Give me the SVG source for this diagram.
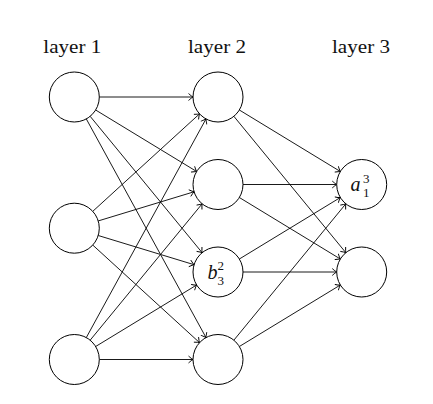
<svg xmlns="http://www.w3.org/2000/svg" width="433" height="404" viewBox="0 0 433 404">
<style>
.n{fill:#fff;stroke:#000;stroke-width:1}
.c line{stroke:#000;stroke-width:0.9;marker-end:url(#ar)}
.t{font-family:"Liberation Serif","Times New Roman","DejaVu Serif",serif;font-size:19px;fill:#111;text-anchor:middle}
.m{font-family:"Liberation Serif","Times New Roman","DejaVu Serif",serif;fill:#111}
</style>
<defs>
<marker id="ar" markerUnits="userSpaceOnUse" markerWidth="12" markerHeight="12" refX="0" refY="0" viewBox="-6 -6 12 12" orient="auto">
<path d="M-4.2,-3.2 Q-1.4,-0.7 0,0 Q-1.4,0.7 -4.2,3.2" fill="none" stroke="#000" stroke-width="0.9" stroke-linecap="round"/>
</marker>
</defs>
<rect width="433" height="404" fill="#fff"/>
<g id="labels">
<text class="t" x="72.3" y="53" textLength="58" lengthAdjust="spacingAndGlyphs">layer 1</text>
<text class="t" x="217" y="53" textLength="58" lengthAdjust="spacingAndGlyphs">layer 2</text>
<text class="t" x="361" y="53" textLength="58" lengthAdjust="spacingAndGlyphs">layer 3</text>
</g>
<g id="connectors" class="c">
<line x1="99.3" y1="97" x2="193" y2="97"/>
<line x1="95.65" y1="110" x2="196.65" y2="171.5"/>
<line x1="90.17" y1="116.32" x2="202.13" y2="252.68"/>
<line x1="86.3" y1="118.93" x2="206" y2="337.57"/>
<line x1="92.76" y1="211.34" x2="199.54" y2="113.86"/>
<line x1="98.22" y1="220.93" x2="194.08" y2="191.77"/>
<line x1="98.22" y1="235.5" x2="194.08" y2="264.7"/>
<line x1="92.76" y1="245.06" x2="199.54" y2="342.64"/>
<line x1="86.3" y1="337.57" x2="206" y2="118.93"/>
<line x1="90.17" y1="340.18" x2="202.13" y2="203.82"/>
<line x1="95.65" y1="346.5" x2="196.65" y2="285"/>
<line x1="99.3" y1="359.5" x2="193" y2="359.5"/>
<line x1="239.35" y1="110" x2="340.35" y2="171.5"/>
<line x1="233.87" y1="116.32" x2="345.83" y2="252.68"/>
<line x1="243" y1="184.5" x2="336.7" y2="184.5"/>
<line x1="239.35" y1="197.5" x2="340.35" y2="259"/>
<line x1="239.35" y1="259" x2="340.35" y2="197.5"/>
<line x1="243" y1="272" x2="336.7" y2="272"/>
<line x1="233.87" y1="340.18" x2="345.83" y2="203.82"/>
<line x1="239.35" y1="346.5" x2="340.35" y2="285"/>
</g>
<g id="l1n1"><circle class="n" cx="74.3" cy="97" r="25"/></g>
<g id="l1n2"><circle class="n" cx="74.3" cy="228.2" r="25"/></g>
<g id="l1n3"><circle class="n" cx="74.3" cy="359.5" r="25"/></g>
<g id="l2n1"><circle class="n" cx="218" cy="97" r="25"/></g>
<g id="l2n2"><circle class="n" cx="218" cy="184.5" r="25"/></g>
<g id="l2n3"><circle class="n" cx="218" cy="272" r="25"/>
<text class="m" x="207.5" y="278.5" font-size="20" font-style="italic">b</text>
<text class="m" x="217.5" y="270" font-size="13">2</text>
<text class="m" x="217.5" y="284.5" font-size="13">3</text>
</g>
<g id="l2n4"><circle class="n" cx="218" cy="359.5" r="25"/></g>
<g id="l3n1"><circle class="n" cx="361.7" cy="184.5" r="25"/>
<text class="m" x="350.5" y="191" font-size="20" font-style="italic">a</text>
<text class="m" x="363" y="183" font-size="13">3</text>
<text class="m" x="363" y="196.5" font-size="13">1</text>
</g>
<g id="l3n2"><circle class="n" cx="361.7" cy="272" r="25"/></g>
</svg>
